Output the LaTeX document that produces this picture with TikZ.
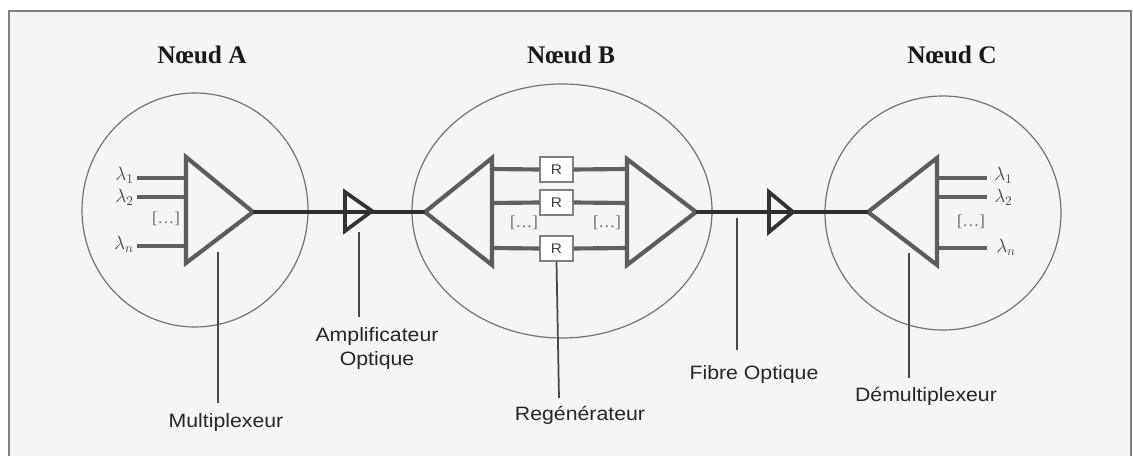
\documentclass[tikz,border=0pt]{standalone}
\usepackage{fontspec}
\setmainfont{Liberation Serif}
\newfontfamily\labfont[FakeStretch=1.1]{Liberation Sans}
\begin{document}
\begin{tikzpicture}[x=0.75pt,y=-0.75pt,
  tri/.style={draw=black!64,line width=3.1pt,line join=miter},
  amp/.style={draw=black!80,line width=2.8pt,line join=miter},
  fiber/.style={draw=black!82,line width=3.6pt},
  lane/.style={draw=black!62,line width=3.1pt},
  ring/.style={draw=black!55,line width=0.9pt},
  pointer/.style={draw=black!72,line width=1.3pt},
  rbox/.style={draw=black!50,fill=white,line width=0.9pt,minimum width=33*0.75pt,minimum height=25*0.75pt,inner sep=0pt,font=\labfont\fontsize{10.5}{12}\selectfont,text=black!75},
  title/.style={font=\bfseries\fontsize{19}{22}\selectfont,text=black!90},
  lab/.style={font=\labfont\fontsize{14.5}{18}\selectfont,text=black!85,align=center},
  lam/.style={font=\fontsize{14}{15}\selectfont,text=black!72,inner sep=0pt},
  dots/.style={font=\fontsize{12.5}{13}\selectfont,text=black!60,inner sep=0pt}]
\useasboundingbox (0,0) rectangle (1133,456);
\fill[black!4] (9,11) rectangle (1131,456);
\draw[black!50,line width=1.3pt] (9,456) -- (9,11) -- (1131,11) -- (1131,456);

% titles
\node[title] (tA) at (202,55) {Nœud A};
\node[title] (tB) at (571,55) {Nœud B};
\node[title] (tC) at (952,55) {Nœud C};

% node circles
\draw[ring] (195,210) ellipse [x radius=113, y radius=117];
\draw[ring] (562,211) ellipse [x radius=150, y radius=127];
\draw[ring] (943,213) ellipse [x radius=118, y radius=117];

% Node A: multiplexer
\coordinate (aT) at (186,157); \coordinate (aB) at (186,263); \coordinate (aO) at (253,212);
\coordinate (a1) at (137,178); \coordinate (a2) at (137,197); \coordinate (a3) at (137,246);
\coordinate (a1e) at (186,178); \coordinate (a2e) at (186,197); \coordinate (a3e) at (186,246);
\draw[lane] (a1) -- (a1e); \draw[lane] (a2) -- (a2e); \draw[lane] (a3) -- (a3e);
\draw[tri] (aT) -- (aO) -- (aB) -- cycle;
\node[lam,anchor=east] (la1) at (134,175) {$\lambda_1$};
\node[lam,anchor=east] (la2) at (134,197) {$\lambda_2$};
\node[lam,anchor=east] (la3) at (134,244) {$\lambda_n$};
\node[dots] (da) at (166,219) {[\ldots]};

% Amplifier 1
\coordinate (p1T) at (345,192); \coordinate (p1B) at (345,231); \coordinate (p1O) at (372,211);
% Node B
\coordinate (bI) at (425,212); \coordinate (bT) at (492,158); \coordinate (bB) at (492,265);
\coordinate (cT) at (627,159); \coordinate (cB) at (627,265); \coordinate (cO) at (696,212);
\node[rbox] (r1) at (556.5,169.5) {R};
\node[rbox] (r2) at (556.5,202.5) {R};
\node[rbox] (r3) at (556.5,248.5) {R};
\draw[lane] (492,169) -- (r1.west); \draw[lane] (r1.east) -- (627,169);
\draw[lane] (492,203) -- (r2.west); \draw[lane] (r2.east) -- (627,203);
\draw[lane] (492,248) -- (r3.west); \draw[lane] (r3.east) -- (627,248);
\draw[tri] (bI) -- (bT) -- (bB) -- cycle;
\draw[tri] (cT) -- (cO) -- (cB) -- cycle;
\node[dots] (db1) at (524,223) {[\ldots]};
\node[dots] (db2) at (607,223) {[\ldots]};

% Amplifier 2
\coordinate (p2T) at (769,192); \coordinate (p2B) at (769,232); \coordinate (p2O) at (793,212);
% Node C: demultiplexer
\coordinate (dI) at (868,212); \coordinate (dT) at (937,158); \coordinate (dB) at (937,265);
\coordinate (d1) at (937,178); \coordinate (d2) at (937,197); \coordinate (d3) at (937,248);
\coordinate (d1e) at (987,178); \coordinate (d2e) at (987,197); \coordinate (d3e) at (987,248);
\draw[lane] (d1) -- (d1e); \draw[lane] (d2) -- (d2e); \draw[lane] (d3) -- (d3e);
\draw[tri] (dI) -- (dT) -- (dB) -- cycle;
\node[lam,anchor=west] (lc1) at (994,175) {$\lambda_1$};
\node[lam,anchor=west] (lc2) at (994,197) {$\lambda_2$};
\node[lam,anchor=west] (lc3) at (996,247) {$\lambda_n$};
\node[dots] (dc) at (971,222) {[\ldots]};

% fibre
\draw[fiber] (aO) -- (bI);
\draw[fiber] (cO) -- (dI);
\draw[amp] (p1T) -- (p1O) -- (p1B) -- cycle;
\draw[amp] (p2T) -- (p2O) -- (p2B) -- cycle;

% pointers and labels
\node[lab] (lMux) at (226,423) {Multiplexeur};
\node[lab] (lAmp) at (377,349) {Amplificateur\\Optique};
\node[lab] (lReg) at (580,415) {Regénérateur};
\node[lab] (lFib) at (754,375) {Fibre Optique};
\node[lab] (lDem) at (926,396) {Démultiplexeur};
\coordinate (mux0) at (218,252);
\coordinate (amp0) at (359,232);
\coordinate (fib0) at (737,218);
\coordinate (dem0) at (909,253);
\draw[pointer] (mux0) -- (218,403);
\draw[pointer] (amp0) -- (359,317);
\draw[pointer] (r3.south) -- (559,398);
\draw[pointer] (fib0) -- (737,350);
\draw[pointer] (dem0) -- (909,378);
\end{tikzpicture}
\end{document}
